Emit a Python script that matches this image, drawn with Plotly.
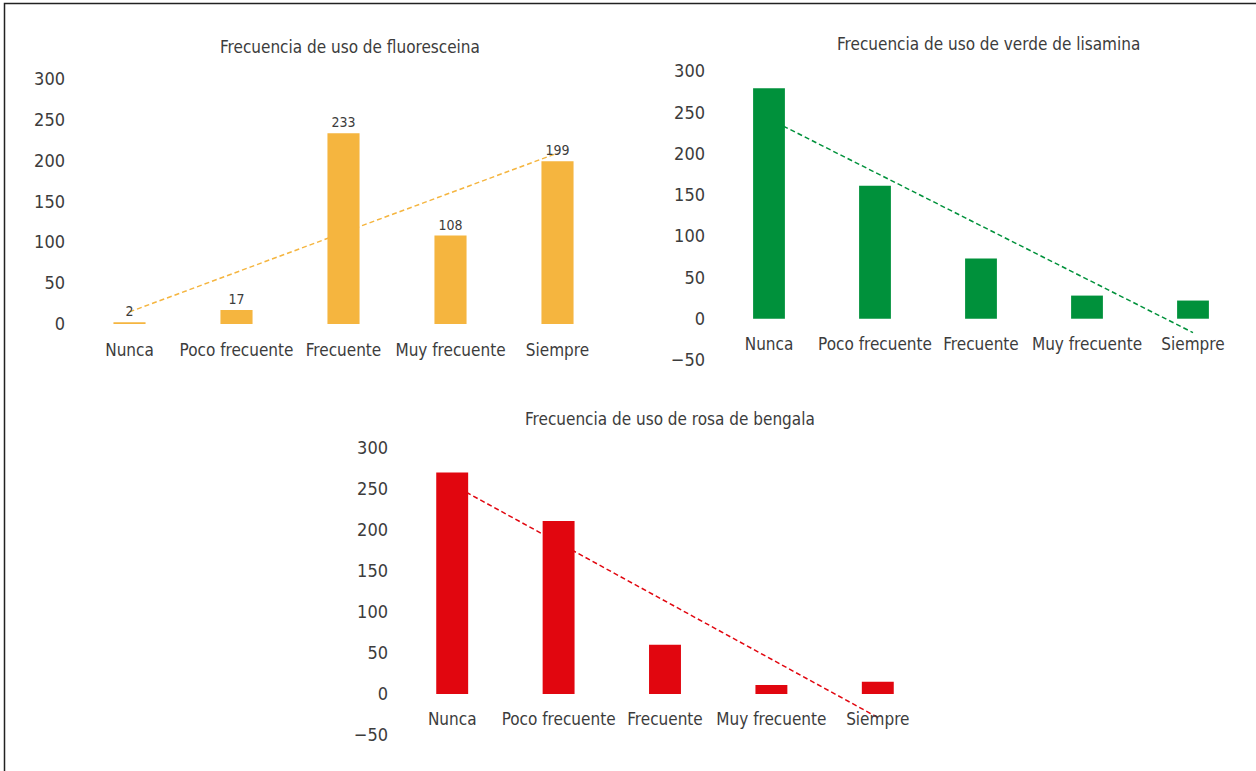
import numpy as np
import plotly.graph_objects as go

W, H = 1256, 771

categories = ["Nunca", "Poco frecuente", "Frecuente", "Muy frecuente", "Siempre"]

fluoresceina = [2, 17, 233, 108, 199]
lisamina = [279, 161, 73, 28, 22]
rosa_bengala = [270, 211, 60, 11, 15]

titles = ["Frecuencia de uso de fluoresceina",
          "Frecuencia de uso de verde de lisamina",
          "Frecuencia de uso de rosa de bengala"]

y_ticks_pos = [0, 50, 100, 150, 200, 250, 300]
y_ticks_neg = [-50, 0, 50, 100, 150, 200, 250, 300]

ORANGE = "#F5B53F"
GREEN = "#00913B"
RED = "#E1060F"
TXT = "#3C3C3C"
FONT = "DejaVu Sans Condensed, Liberation Sans Narrow, Roboto Condensed, Arial Narrow, sans-serif"


def px_x(p):
    return p / W


def px_y(p):
    return 1 - p / H


def trend(values):
    xs = np.arange(1, len(values) + 1)
    m, b = np.polyfit(xs, values, 1)
    return list(m * xs + b)


fig = go.Figure()

series = [
    (fluoresceina, ORANGE, "x", "y", True),
    (lisamina, GREEN, "x2", "y2", False),
    (rosa_bengala, RED, "x3", "y3", False),
]

for vals, col, xa, ya, labels in series:
    fig.add_trace(go.Scatter(
        x=categories, y=trend(vals), mode="lines", xaxis=xa, yaxis=ya,
        line=dict(color=col, width=1.5, dash="5px,3px"), zorder=0,
        showlegend=False, hoverinfo="skip", cliponaxis=False))
    fig.add_trace(go.Bar(
        x=categories, y=vals, xaxis=xa, yaxis=ya, marker=dict(color=col, line=dict(width=0)),
        width=0.3, zorder=1, showlegend=False,
        text=[str(v) for v in vals] if labels else None,
        textposition="outside" if labels else None,
        textfont=dict(size=14, color=TXT, family=FONT),
        cliponaxis=False))

# domains (pixel-based)
d1x = [px_x(76), px_x(611)]
d1y = [px_y(324), px_y(78.5)]
d2x = [px_x(716), px_x(1246)]
d2y = [px_y(360), px_y(71)]
d3x = [px_x(399), px_x(931)]
d3y = [px_y(735), px_y(448)]


def zero_pos(dom):
    return dom[0] + (50 / 350) * (dom[1] - dom[0])


tickfont = dict(size=18, color=TXT, family=FONT)
xtickfont = dict(size=17, color=TXT, family=FONT)

common_y = dict(showgrid=False, zeroline=False, showline=False, ticks="",
                tickfont=tickfont, ticklabelstandoff=10, automargin=False)
common_x = dict(showgrid=False, zeroline=False, showline=True, ticks="",
                tickfont=xtickfont, type="category", range=[-0.5, 4.5],
                categoryorder="array", categoryarray=categories,
                ticklabelstandoff=10, tickangle=0, automargin=False)

fig.update_layout(
    width=W, height=H,
    margin=dict(l=0, r=0, t=0, b=0, autoexpand=False),
    paper_bgcolor="white", plot_bgcolor="rgba(0,0,0,0)",
    font=dict(family=FONT, color=TXT),
    xaxis=dict(domain=d1x, anchor="y", linecolor="#5A5A5A", linewidth=2, **common_x),
    yaxis=dict(domain=d1y, anchor="x", range=[0, 300], tickvals=y_ticks_pos, **common_y),
    xaxis2=dict(domain=d2x, anchor="free", position=zero_pos(d2y), linecolor="#1A1A1A",
                linewidth=1.5, **common_x),
    yaxis2=dict(domain=d2y, anchor="x2", range=[-50, 300], tickvals=y_ticks_neg, **common_y),
    xaxis3=dict(domain=d3x, anchor="free", position=zero_pos(d3y), linecolor="#4A4A4A",
                linewidth=2, **common_x),
    yaxis3=dict(domain=d3y, anchor="x3", range=[-50, 300], tickvals=y_ticks_neg, **common_y),
    bargap=0.7,
)

title_pos = [(350, 47), (988, 44), (670, 419)]
for t, (tx, ty) in zip(titles, title_pos):
    fig.add_annotation(text=t, x=px_x(tx), y=px_y(ty), xref="paper", yref="paper",
                       xanchor="center", yanchor="middle", showarrow=False,
                       font=dict(size=17, color=TXT, family=FONT))

# frame border
fig.add_shape(type="rect", xref="paper", yref="paper",
              x0=px_x(4.5), x1=1.02, y0=-0.02, y1=px_y(3.5),
              line=dict(color="#222222", width=1.5), fillcolor="rgba(0,0,0,0)")

fig.write_html("out.html")
